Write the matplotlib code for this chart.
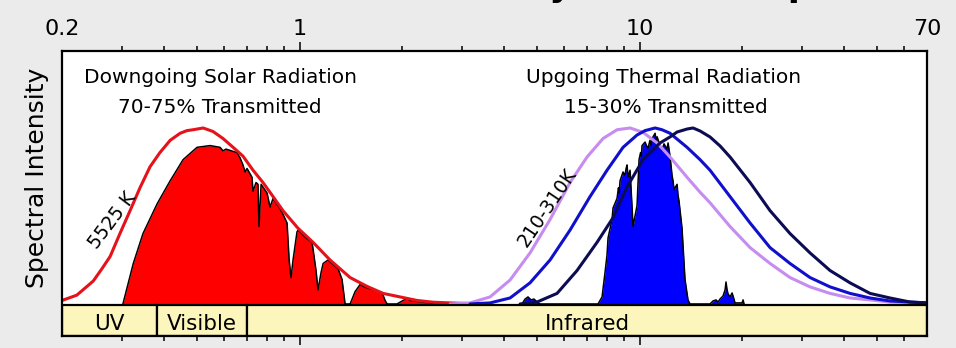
import matplotlib.pyplot as plt
from matplotlib.patches import Rectangle
from matplotlib.ticker import NullFormatter

plt.rcParams['font.family'] = ['DejaVu Sans']

# blackbody curve for the sun (5525 K), wavelength in um, peak normalised to 1
sun_bb_wl = [0.200, 0.221, 0.247, 0.262, 0.277, 0.296, 0.317, 0.339, 0.363, 0.388, 0.416,
             0.445, 0.466, 0.486, 0.520, 0.556, 0.595, 0.637, 0.681, 0.729, 0.780, 0.835,
             0.893, 0.989, 1.095, 1.228, 1.407, 1.578, 1.759, 1.973, 2.213, 2.468, 2.768,
             3.392]
sun_bb = [0.02, 0.05, 0.13, 0.20, 0.27, 0.40, 0.53, 0.66, 0.78, 0.86, 0.93,
          0.97, 0.985, 0.99, 1.00, 0.98, 0.94, 0.89, 0.84, 0.76, 0.69, 0.61,
          0.53, 0.43, 0.35, 0.25, 0.15, 0.10, 0.06, 0.04, 0.02, 0.01, 0.006,
          0.0]

# solar radiation reaching the ground
sun_wl = [0.302, 0.324, 0.346, 0.381, 0.416, 0.454, 0.499, 0.545, 0.583, 0.595, 0.607,
          0.654, 0.668, 0.681, 0.691, 0.700, 0.724, 0.729, 0.744, 0.754, 0.759, 0.770,
          0.802, 0.818, 0.835, 0.876, 0.893, 0.918, 0.931, 0.943, 0.956, 0.982, 0.989,
          1.037, 1.087, 1.095, 1.117, 1.132, 1.156, 1.172, 1.212, 1.228, 1.297, 1.332,
          1.360, 1.407, 1.455, 1.505, 1.557, 1.689, 1.747, 1.783, 1.807, 1.933, 2.014,
          2.068, 2.112, 2.306, 2.418, 2.468, 3.39]
sun_in = [0.0, 0.23, 0.40, 0.57, 0.70, 0.82, 0.89, 0.90, 0.89, 0.87, 0.88,
          0.86, 0.83, 0.79, 0.75, 0.77, 0.72, 0.64, 0.69, 0.68, 0.44, 0.68,
          0.63, 0.55, 0.60, 0.54, 0.51, 0.46, 0.25, 0.15, 0.25, 0.41, 0.42,
          0.38, 0.35, 0.31, 0.19, 0.08, 0.18, 0.23, 0.25, 0.24, 0.20, 0.14,
          0.0, 0.0, 0.07, 0.11, 0.095, 0.075, 0.065, 0.02, 0.0, 0.0, 0.02,
          0.03, 0.02, 0.01, 0.006, 0.0, 0.0]

# earth blackbody curves: 310 K, 260 K, 210 K
warm_wl = [2.77, 3.17, 3.63, 4.156, 4.758, 5.45, 6.24, 7.0, 7.80, 8.58, 9.37, 10.23, 11.25,
           12.28, 13.78, 15.05, 16.10, 18.44, 21.12, 24.18, 27.68, 31.70, 36.30, 41.56,
           47.58, 54.48, 70.0]
warm_bb = [0.0, 0.006, 0.04, 0.136, 0.29, 0.48, 0.69, 0.835, 0.94, 0.99, 1.0, 0.975, 0.915,
           0.835, 0.72, 0.635, 0.575, 0.44, 0.32, 0.23, 0.15, 0.097, 0.06, 0.034,
           0.023, 0.011, 0.006]

mid_wl = [3.17, 3.63, 4.156, 4.758, 5.45, 6.24, 7.144, 8.016, 8.934, 9.822, 10.37, 11.10,
          11.63, 12.28, 13.78, 15.05, 16.10, 18.44, 21.12, 24.18, 27.68, 31.70, 36.30,
          41.56, 47.58, 54.48, 70.0]
mid_bb = [0.0, 0.006, 0.034, 0.12, 0.25, 0.42, 0.61, 0.76, 0.89, 0.96, 0.985, 1.0,
          0.99, 0.97, 0.89, 0.82, 0.76, 0.61, 0.46, 0.32, 0.23, 0.15, 0.097,
          0.06, 0.034, 0.017, 0.006]

cold_wl = [4.448, 4.99, 5.714, 6.542, 7.49, 8.348, 9.18, 10.23, 11.48, 12.28, 12.88, 13.78,
           14.35, 15.05, 16.10, 17.23, 18.44, 21.12, 24.18, 27.68, 31.70, 36.30, 41.56,
           47.58, 54.48, 62.38, 70.0]
cold_bb = [0.0, 0.011, 0.06, 0.19, 0.35, 0.49, 0.665, 0.82, 0.915, 0.949, 0.977, 0.994,
           1.0, 0.983, 0.949, 0.898, 0.835, 0.69, 0.53, 0.40, 0.29, 0.19, 0.12,
           0.06, 0.034, 0.011, 0.006]

# thermal radiation escaping to space
earth_wl = [4.508, 4.600, 4.694, 4.790, 4.888, 5.024, 5.092,
            7.542, 7.750, 7.908, 8.016, 8.070, 8.292, 8.348, 8.578, 8.66, 8.70,
            8.754, 8.934, 9.05, 9.12, 9.180, 9.242, 9.368, 9.496, 9.560, 9.822,
            9.956, 10.06, 10.11, 10.16, 10.37, 10.47, 10.58, 10.72, 10.80, 10.87,
            11.10, 11.17, 11.25, 11.48, 11.63, 11.79, 12.03, 12.12, 12.28, 12.45,
            12.53, 12.62, 12.88, 12.96, 13.05, 13.32, 13.59, 13.87, 14.06,
            16.10, 16.43, 16.77, 17.00, 17.23, 17.58, 17.83, 17.94, 18.07, 18.19,
            18.44, 18.69, 18.82, 19.07, 20.0, 20.14, 20.27]
earth_in = [0.0, 0.028, 0.04, 0.023, 0.028, 0.006, 0.0,
            0.0, 0.04, 0.18, 0.28, 0.375, 0.48, 0.545, 0.60, 0.66, 0.63,
            0.70, 0.75, 0.73, 0.77, 0.79, 0.72, 0.76, 0.55, 0.44, 0.56,
            0.82, 0.86, 0.84, 0.90, 0.92, 0.90, 0.885, 0.93, 0.90, 0.94,
            0.97, 0.93, 0.95, 0.90, 0.875, 0.91, 0.88, 0.915, 0.84, 0.73,
            0.70, 0.65, 0.68, 0.62, 0.585, 0.43, 0.14, 0.023, 0.0,
            0.0, 0.017, 0.023, 0.011, 0.028, 0.045, 0.08, 0.125, 0.08, 0.057,
            0.04, 0.0625, 0.045, 0.006, 0.006, 0.023, 0.0]

band_edges = [0.2, 0.38, 0.70, 70]
band_names = ['UV', 'Visible', 'Infrared']

major_ticks = [0.2, 1, 10, 70]
major_labels = ['0.2', '1', '10', '70']
minor_ticks = [m * d for d in (0.1, 1, 10) for m in range(2, 10) if 0.2 < m * d < 70]

band_lo, band_hi = -0.182, -0.008

fig = plt.figure(figsize=(9.56, 3.48), dpi=100, facecolor='#ebebeb')
ax = fig.add_axes([0.0649, 0.0345, 0.9048, 0.819])
ax.set_facecolor('white')
ax.set_xscale('log')
ax.set_xlim(0.2, 70)
ax.set_ylim(band_lo, 1.4375)

# transmitted spectra
ax.fill_between(sun_wl, 0, sun_in, color='#ff0000', lw=0, zorder=2)
ax.plot(sun_wl, sun_in, color='black', lw=1.1, zorder=2.5)
ax.fill_between(earth_wl, 0, earth_in, color='#0000ff', lw=0, zorder=2)
ax.plot(earth_wl, earth_in, color='black', lw=1.1, zorder=2.5)

# blackbody envelopes
curve_kw = dict(lw=2.2, zorder=3, solid_joinstyle='round', solid_capstyle='round')
ax.plot(sun_bb_wl, sun_bb, color='#e5121b', **curve_kw)
ax.plot(warm_wl, warm_bb, color='#c68cf0', **curve_kw)
ax.plot(mid_wl, mid_bb, color='#1010cc', **curve_kw)
ax.plot(cold_wl, cold_bb, color='#0c0c55', **curve_kw)

# spectral bands along the bottom
for lo, hi, name in zip(band_edges[:-1], band_edges[1:], band_names):
    ax.add_patch(Rectangle((lo, band_lo), hi - lo, band_hi - band_lo, facecolor='#fdf6bc',
                           edgecolor='black', lw=1.6, zorder=4))
    ax.text((lo * hi) ** 0.5, -0.148, name, ha='center', va='baseline', fontsize=15.5, zorder=5)

ax.text(0.583, 1.256, 'Downgoing Solar Radiation', ha='center', va='baseline', fontsize=14.5)
ax.text(0.583, 1.085, '70-75% Transmitted', ha='center', va='baseline', fontsize=14.5)
ax.text(11.72, 1.256, 'Upgoing Thermal Radiation', ha='center', va='baseline', fontsize=14.5)
ax.text(11.95, 1.085, '15-30% Transmitted', ha='center', va='baseline', fontsize=14.5)
ax.text(0.281, 0.472, '5525 K', rotation=53, ha='center', va='center', fontsize=13.5)
ax.text(5.34, 0.545, '210-310K', rotation=56, ha='center', va='center', fontsize=13.5)

ax.set_xticks(major_ticks)
ax.set_xticklabels(major_labels)
ax.set_xticks(minor_ticks, minor=True)
ax.xaxis.set_minor_formatter(NullFormatter())
ax.set_yticks([])
ax.tick_params(axis='x', which='both', direction='out', top=True, bottom=True,
               labeltop=True, labelbottom=False, width=1.1, labelsize=16, pad=2)
ax.tick_params(axis='x', which='major', length=6.5)
ax.tick_params(axis='x', which='minor', length=3.6)
for t in (ax.xaxis.get_major_ticks()[0], ax.xaxis.get_major_ticks()[-1]):
    t.tick1line.set_visible(False)
    t.tick2line.set_visible(False)
for s in ax.spines.values():
    s.set_linewidth(1.6)
    s.set_zorder(6)

fig.text(0.039, 0.49, 'Spectral Intensity', rotation=90, ha='center', va='center', fontsize=18)
fig.text(0.509, 1.0124, 'Radiation Transmitted by the Atmosphere', ha='center', va='baseline',
         fontsize=25.3, fontweight='bold')

fig.savefig('out.png', dpi=100, facecolor=fig.get_facecolor())
